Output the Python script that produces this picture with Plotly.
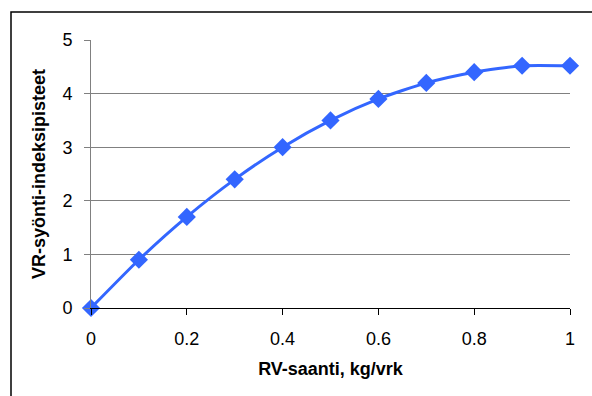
import plotly.graph_objects as go

x_vals = [0, 0.1, 0.2, 0.3, 0.4, 0.5, 0.6, 0.7, 0.8, 0.9, 1.0]
y_vals = [0, 0.9, 1.7, 2.4, 3.0, 3.5, 3.9, 4.2, 4.4, 4.52, 4.52]
x_ticks = [0, 0.2, 0.4, 0.6, 0.8, 1]
x_tick_labels = ["0", "0.2", "0.4", "0.6", "0.8", "1"]
y_ticks = [0, 1, 2, 3, 4, 5]

fig = go.Figure()
fig.add_trace(go.Scatter(
    x=x_vals, y=y_vals, mode="lines+markers",
    line=dict(color="#3366FF", width=3, shape="spline", smoothing=0.6),
    marker=dict(symbol="diamond", size=14, color="#3366FF"),
    cliponaxis=False, showlegend=False,
))

font = dict(family="Liberation Sans, Arial", size=18, color="black")
fig.update_layout(
    width=592, height=396,
    margin=dict(l=91, r=22, t=40, b=88),
    paper_bgcolor="white", plot_bgcolor="white",
    font=font,
    xaxis=dict(
        range=[0, 1], tickvals=x_ticks, ticktext=x_tick_labels,
        showgrid=False, zeroline=False,
        showline=True, linecolor="black", linewidth=1,
        ticks="outside", ticklen=6, tickcolor="black",
        ticklabelstandoff=8,
        title=dict(text="<b>RV-saanti, kg/vrk</b>", font=font, standoff=14),
        tickfont=font,
    ),
    yaxis=dict(
        range=[0, 5], tickvals=y_ticks,
        showgrid=True, gridcolor="#808080", gridwidth=1,
        zeroline=False,
        showline=True, linecolor="#808080", linewidth=1,
        ticks="outside", ticklen=6, tickcolor="#808080",
        ticklabelstandoff=8,
        title=dict(text="<b>VR-syönti-indeksipisteet</b>", font=font, standoff=12),
        tickfont=font,
    ),
)
fig.add_shape(type="rect", xref="paper", yref="paper",
              x0=-80/479, y0=-1.4, x1=1.2, y1=(308-12)/268,
              line=dict(color="black", width=1.5), fillcolor="rgba(0,0,0,0)", layer="below")
fig.write_html("out.html")
